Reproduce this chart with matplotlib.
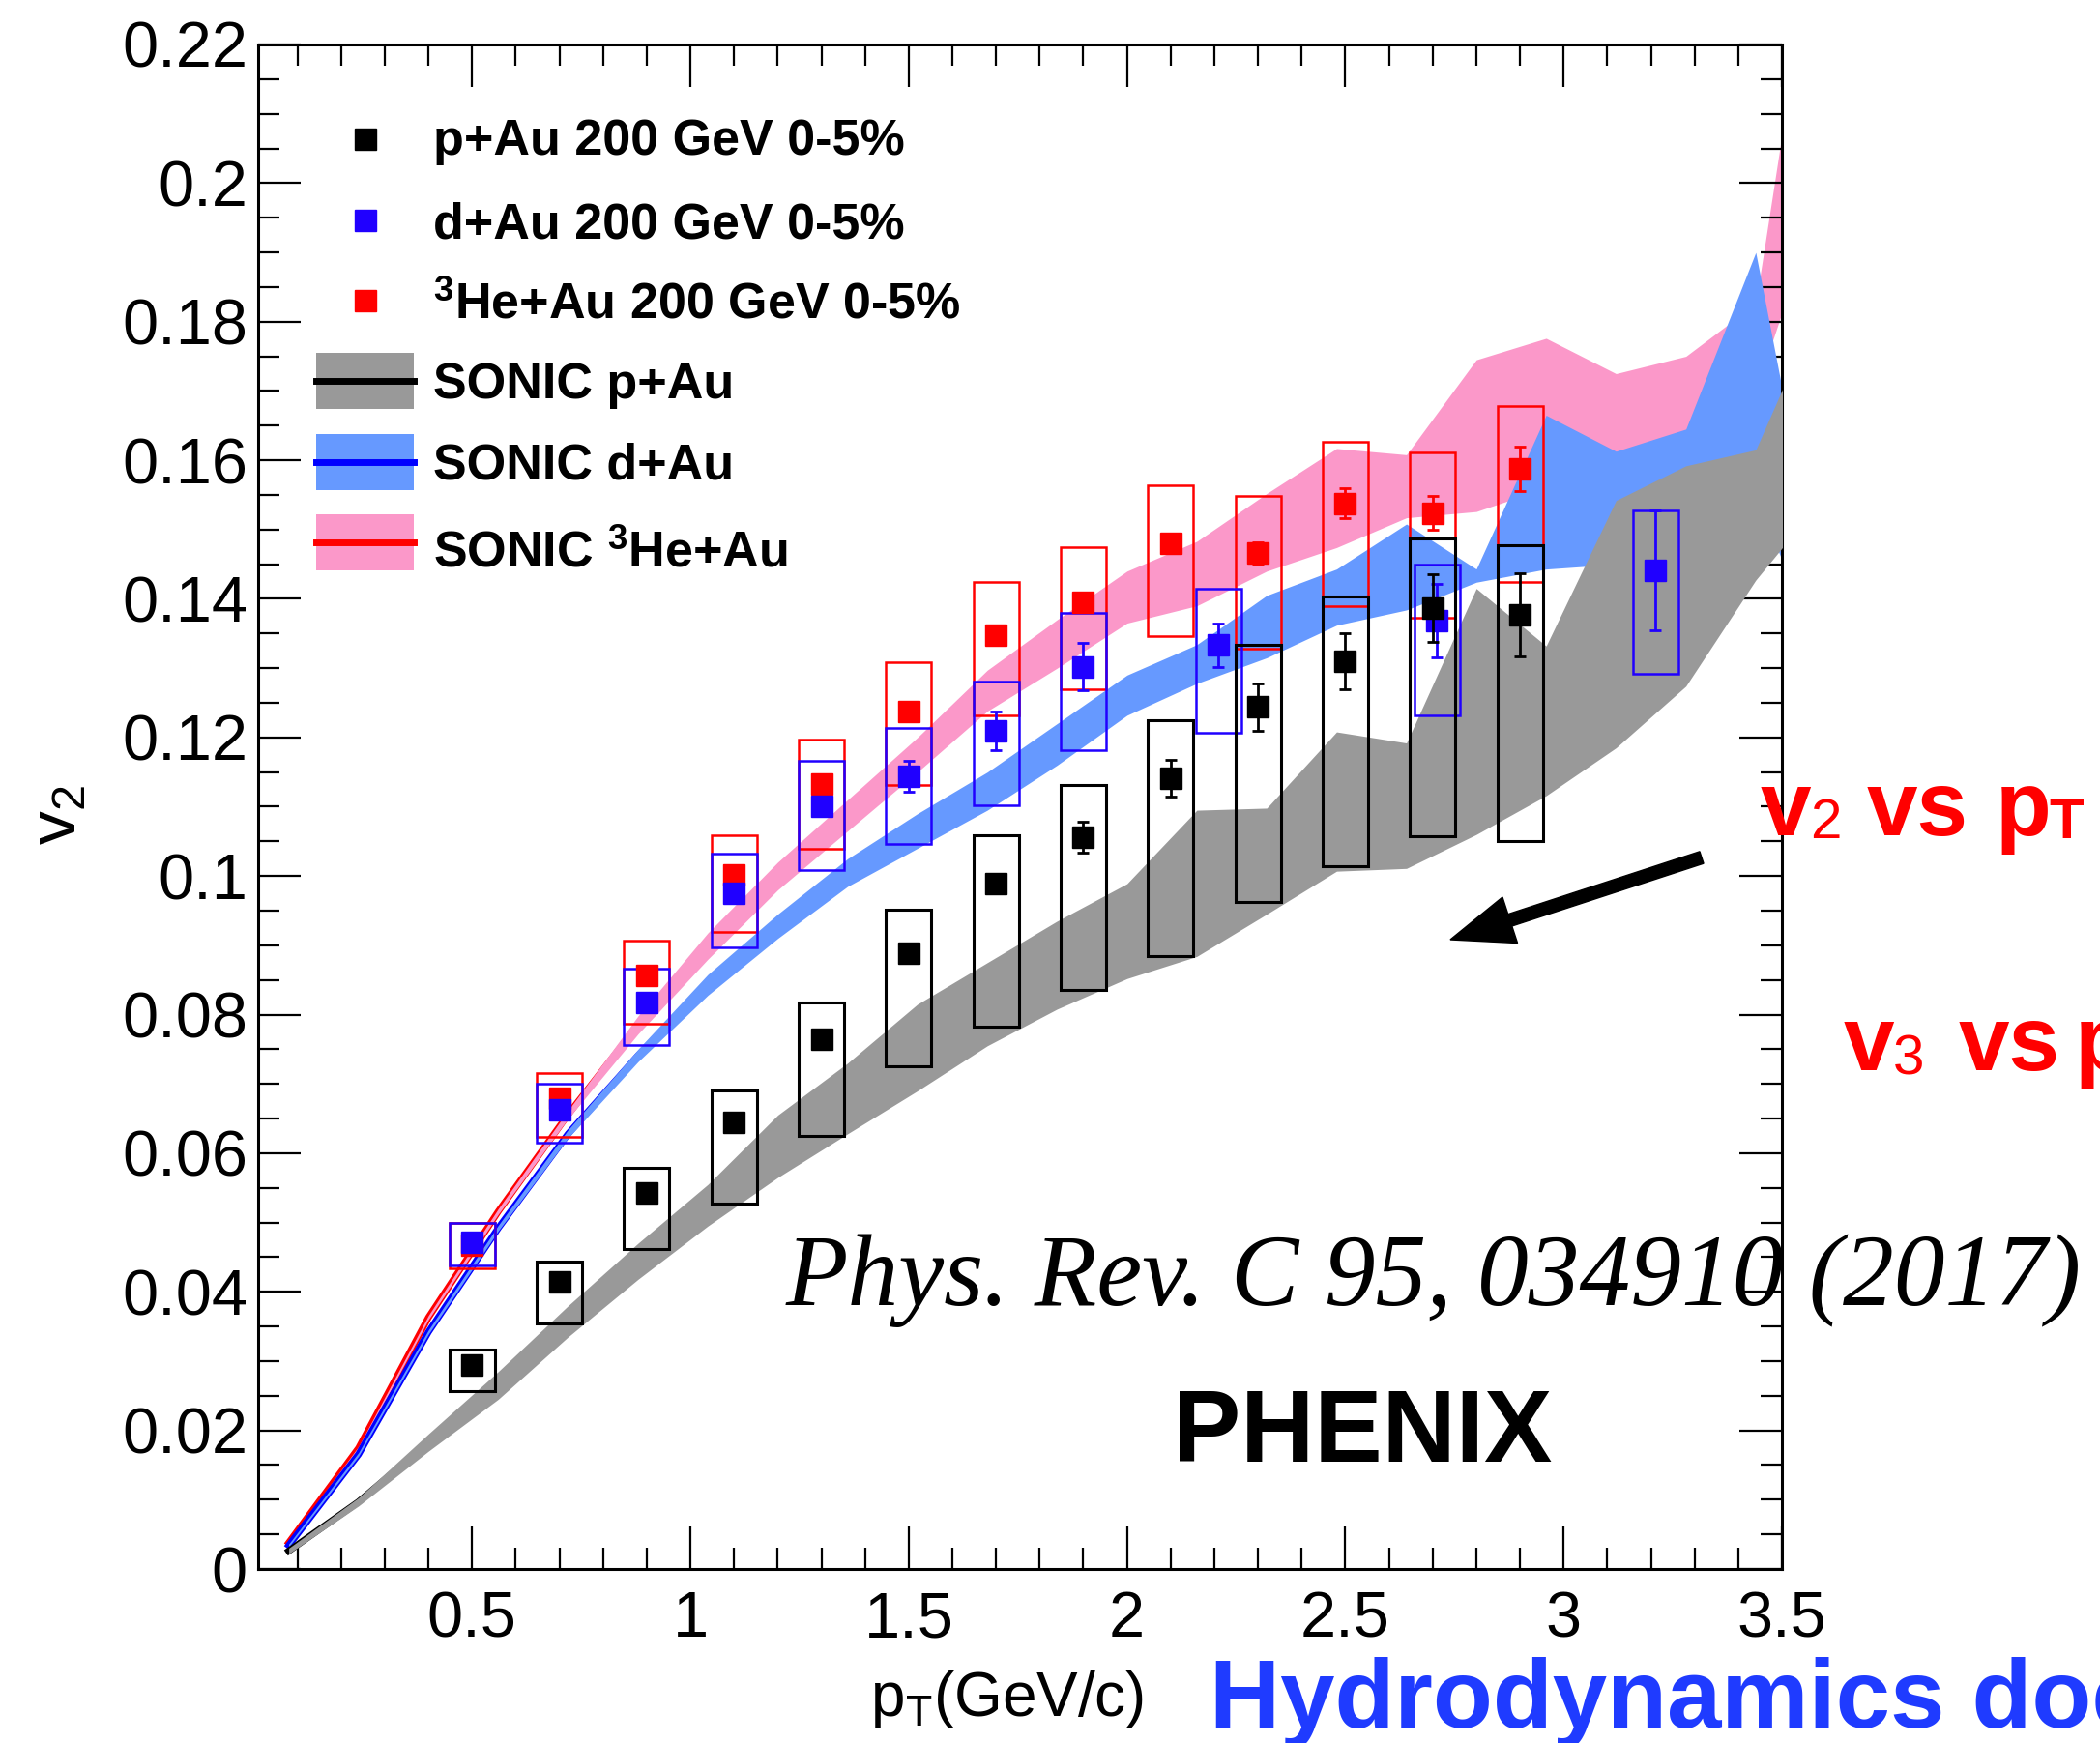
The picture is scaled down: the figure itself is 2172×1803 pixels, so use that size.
import numpy as np
import matplotlib
matplotlib.use("Agg")
import matplotlib.pyplot as plt
from matplotlib.patches import Rectangle, FancyArrow
from matplotlib.lines import Line2D
from matplotlib.ticker import MultipleLocator, FuncFormatter

plt.rcParams["font.family"] = ["Liberation Sans", "DejaVu Sans"]
plt.rcParams["mathtext.fontset"] = "custom"
plt.rcParams["mathtext.rm"] = "Liberation Sans"
plt.rcParams["mathtext.it"] = "Liberation Sans:italic"
plt.rcParams["mathtext.bf"] = "Liberation Sans:bold"

W, H = 2172, 1803

# --- PHENIX v2 data: points, stat errors, systematic box edges ---
pau_pt = [0.5, 0.7, 0.9, 1.1, 1.3, 1.5, 1.7, 1.9, 2.1, 2.3, 2.5, 2.7, 2.9]
pau_v2 = [0.0295, 0.0415, 0.0542, 0.0645, 0.0764, 0.0888, 0.0989, 0.1056,
          0.1141, 0.1244, 0.1310, 0.1387, 0.1377]
pau_stat = [0.0008, 0.0008, 0.0009, 0.0010, 0.0010, 0.0011, 0.0014, 0.0022,
            0.0027, 0.0034, 0.0041, 0.0049, 0.0060]
pau_sys_hi = [0.0316, 0.0444, 0.0579, 0.0691, 0.0818, 0.0951, 0.1059, 0.1131,
              0.1225, 0.1333, 0.1404, 0.1487, 0.1477]
pau_sys_lo = [0.0256, 0.0355, 0.0462, 0.0527, 0.0625, 0.0726, 0.0783, 0.0836,
              0.0884, 0.0963, 0.1014, 0.1057, 0.1051]

dau_pt = [0.5, 0.7, 0.9, 1.1, 1.3, 1.5, 1.7, 1.9, 2.21, 2.71, 3.21]
dau_v2 = [0.0471, 0.0662, 0.0817, 0.0975, 0.1101, 0.1144, 0.1210, 0.1302,
          0.1333, 0.1368, 0.1441]
dau_stat = [0.0008, 0.0012, 0.0010, 0.0010, 0.0014, 0.0022, 0.0028, 0.0034,
            0.0031, 0.0053, 0.0086]
dau_sys_hi = [0.0499, 0.0701, 0.0866, 0.1032, 0.1166, 0.1213, 0.1281, 0.1380,
              0.1414, 0.1450, 0.1528]
dau_sys_lo = [0.0438, 0.0615, 0.0756, 0.0897, 0.1009, 0.1046, 0.1102, 0.1182,
              0.1207, 0.1232, 0.1292]

heau_pt = [0.5, 0.7, 0.9, 1.1, 1.3, 1.5, 1.7, 1.9, 2.1, 2.3, 2.5, 2.7, 2.9]
heau_v2 = [0.0468, 0.0679, 0.0857, 0.1002, 0.1133, 0.1237, 0.1348, 0.1395,
           0.1480, 0.1466, 0.1538, 0.1524, 0.1588]
heau_stat = [0.0008, 0.0009, 0.0010, 0.0010, 0.0011, 0.0012, 0.0013, 0.0014,
             0.0014, 0.0016, 0.0021, 0.0025, 0.0032]
heau_sys_hi = [0.0499, 0.0716, 0.0907, 0.1059, 0.1197, 0.1308, 0.1425, 0.1475,
               0.1564, 0.1549, 0.1627, 0.1611, 0.1678]
heau_sys_lo = [0.0434, 0.0623, 0.0787, 0.0920, 0.1039, 0.1132, 0.1232, 0.1270,
               0.1346, 0.1328, 0.1390, 0.1373, 0.1425]

# --- SONIC hydro bands (upper / lower edge) ---
sonic_pt = [0.08, 0.24, 0.40, 0.56, 0.72, 0.88, 1.04, 1.20, 1.36, 1.52, 1.68,
            1.84, 2.00, 2.16, 2.32, 2.48, 2.64, 2.80, 2.96, 3.12, 3.28, 3.44, 3.60]
sonic_pau_hi = [0.0030, 0.0103, 0.0195, 0.0285, 0.0380, 0.0470, 0.0555, 0.0655,
                0.0730, 0.0815, 0.0875, 0.0935, 0.0989, 0.1095, 0.1098, 0.1208,
                0.1192, 0.1415, 0.1332, 0.1542, 0.1592, 0.1615, 0.1844]
sonic_pau_lo = [0.0022, 0.0091, 0.0170, 0.0245, 0.0335, 0.0418, 0.0495, 0.0565,
                0.0628, 0.0690, 0.0755, 0.0808, 0.0852, 0.0884, 0.0945, 0.1007,
                0.1011, 0.1060, 0.1116, 0.1185, 0.1274, 0.1427, 0.1550]
sonic_dau_hi = [0.0036, 0.0168, 0.0345, 0.0496, 0.0634, 0.0750, 0.0858, 0.0945,
                0.1025, 0.1090, 0.1150, 0.1220, 0.1290, 0.1334, 0.1405, 0.1443,
                0.1508, 0.1443, 0.1665, 0.1613, 0.1645, 0.1900, 0.1380]
sonic_dau_lo = [0.0032, 0.0163, 0.0339, 0.0488, 0.0622, 0.0732, 0.0828, 0.0910,
                0.0985, 0.1040, 0.1095, 0.1160, 0.1232, 0.1278, 0.1315, 0.1362,
                0.1384, 0.1424, 0.1443, 0.1450, 0.1480, 0.1550, 0.1300]
sonic_heau_hi = [0.0040, 0.0177, 0.0366, 0.0520, 0.0662, 0.0798, 0.0918, 0.1020,
                 0.1110, 0.1200, 0.1297, 0.1370, 0.1440, 0.1483, 0.1552, 0.1617,
                 0.1608, 0.1745, 0.1776, 0.1725, 0.1750, 0.1826, 0.2475]
sonic_heau_lo = [0.0036, 0.0172, 0.0360, 0.0512, 0.0650, 0.0772, 0.0880, 0.0980,
                 0.1065, 0.1150, 0.1238, 0.1300, 0.1365, 0.1390, 0.1440, 0.1474,
                 0.1517, 0.1526, 0.1560, 0.1580, 0.1600, 0.1700, 0.2000]

C_BLACK = "black"
C_BLUE = "#2000ff"
C_RED = "#ff0000"
C_GRAY_BAND = "#999999"
C_BLUE_BAND = "#6699ff"
C_PINK_BAND = "#fb98c9"


def fx(x):
    return x / W


def fy(y):
    return 1 - y / H


fig = plt.figure(figsize=(W / 100, H / 100), dpi=100)
ax = fig.add_axes([fx(267), fy(1623), (1843 - 267) / W, (1623 - 46) / H])

# hydro curves: central line first, band drawn over it
bands = [
    (sonic_heau_lo, sonic_heau_hi, C_RED, C_PINK_BAND),
    (sonic_dau_lo, sonic_dau_hi, "#0000ff", C_BLUE_BAND),
    (sonic_pau_lo, sonic_pau_hi, C_BLACK, C_GRAY_BAND),
]
z = 1
for lo, hi, lc, fc in bands:
    lo = np.array(lo)
    hi = np.array(hi)
    ax.plot(sonic_pt, (lo + hi) / 2, color=lc, lw=5, zorder=z)
    ax.fill_between(sonic_pt, lo, hi, color=fc, lw=0, zorder=z + 0.5)
    z += 1

# systematic boxes and points with stat errors
datasets = [
    (heau_pt, heau_v2, heau_stat, heau_sys_lo, heau_sys_hi, C_RED, 1.8),
    (dau_pt, dau_v2, dau_stat, dau_sys_lo, dau_sys_hi, C_BLUE, 1.8),
    (pau_pt, pau_v2, pau_stat, pau_sys_lo, pau_sys_hi, C_BLACK, 2.2),
]
for pt, v2, stat, slo, shi, c, blw in datasets:
    for xi, lo, hi in zip(pt, slo, shi):
        ax.add_patch(Rectangle((xi - 0.052, lo), 0.104, hi - lo, fill=False,
                               ec=c, lw=blw, zorder=5))
for i, (pt, v2, stat, slo, shi, c, blw) in enumerate(datasets):
    ax.errorbar(pt, v2, yerr=stat, fmt="s", color=c, mec=c, ms=16,
                capsize=4.5, elinewidth=2, capthick=2, zorder=6 + i)

ax.set_xlim(0.01, 3.5)
ax.set_ylim(0, 0.22)
ax.xaxis.set_major_locator(MultipleLocator(0.5))
ax.xaxis.set_minor_locator(MultipleLocator(0.1))
ax.yaxis.set_major_locator(MultipleLocator(0.02))
ax.yaxis.set_minor_locator(MultipleLocator(0.005))
fmt = FuncFormatter(lambda v, p: "%g" % round(v, 4))
ax.xaxis.set_major_formatter(fmt)
ax.yaxis.set_major_formatter(fmt)
ax.tick_params(which="both", direction="in", top=True, right=True, width=1.6)
ax.tick_params(which="major", length=32, labelsize=48)
ax.tick_params(which="minor", length=16)
ax.tick_params(axis="x", which="major", pad=16)
ax.tick_params(axis="y", which="major", pad=8)
for s in ax.spines.values():
    s.set_linewidth(2.2)

# axis titles
fig.text(fx(60), fy(843), r"v$_{2}$", rotation=90, ha="center", va="center",
         fontsize=50)
fig.text(fx(900), fy(1775), r"p$_{\mathrm{T}}$(GeV/c)", ha="left",
         va="baseline", fontsize=46)

# legend, drawn by hand
leg_fs = 37.5
marker_rows = [(143.7, C_BLACK, "p+Au 200 GeV 0-5%", 160),
               (227.5, C_BLUE, "d+Au 200 GeV 0-5%", 246.7),
               (310.5, C_RED, r"$^{\mathbf{3}}$He+Au 200 GeV 0-5%", 329)]
for yc, c, label, base in marker_rows:
    fig.add_artist(Line2D([fx(378)], [fy(yc)], marker="s", ms=16, color=c,
                          mec=c, transform=fig.transFigure))
    fig.text(fx(448), fy(base), label, fontsize=leg_fs, weight="bold",
             va="baseline")
band_rows = [(394, C_BLACK, C_GRAY_BAND, "SONIC p+Au", 411.7),
             (477.5, "#0000ff", C_BLUE_BAND, "SONIC d+Au", 495),
             (561, C_RED, C_PINK_BAND, r"SONIC $^{\mathbf{3}}$He+Au", 586.7)]
for yc, lc, fc, label, base in band_rows:
    fig.add_artist(Rectangle((fx(327), fy(yc + 29)), 101 / W, 58 / H, color=fc,
                             lw=0, transform=fig.transFigure))
    fig.add_artist(Line2D([fx(327), fx(428)], [fy(yc), fy(yc)], color=lc, lw=5,
                          transform=fig.transFigure))
    fig.text(fx(448), fy(base), label, fontsize=leg_fs, weight="bold",
             va="baseline")

# annotations on top of the plot
fig.text(fx(813), fy(1350), "Phys. Rev. C 95, 034910 (2017)",
         family="Liberation Serif", style="italic", fontsize=76, va="baseline")
fig.text(fx(1213), fy(1512), "PHENIX", fontsize=76, weight="bold",
         va="baseline")

red_parts = [("v", 1821, 864, 68, "bold"), ("2", 1872, 867, 42, "normal"),
             ("vs", 1931, 864, 68, "bold"), ("p", 2064, 864, 68, "bold"),
             ("T", 2119, 867, 42, "bold"),
             ("v", 1907, 1107, 68, "bold"), ("3", 1958, 1112, 42, "normal"),
             ("vs", 2026, 1107, 68, "bold"), ("p", 2146, 1107, 68, "bold")]
for s, x, y, fs, wt in red_parts:
    fig.text(fx(x), fy(y), s, color=C_RED, fontsize=fs, weight=wt,
             va="baseline")

fig.text(fx(1251), fy(1787), "Hydrodynamics does", color="#1f3bff",
         fontsize=73, weight="bold", va="baseline")

fig.add_artist(FancyArrow(1760, H - 887, -260, -85, width=13, head_width=50,
                          head_length=65, length_includes_head=True,
                          color="black", transform=None))

fig.savefig("out.png", dpi=100)
